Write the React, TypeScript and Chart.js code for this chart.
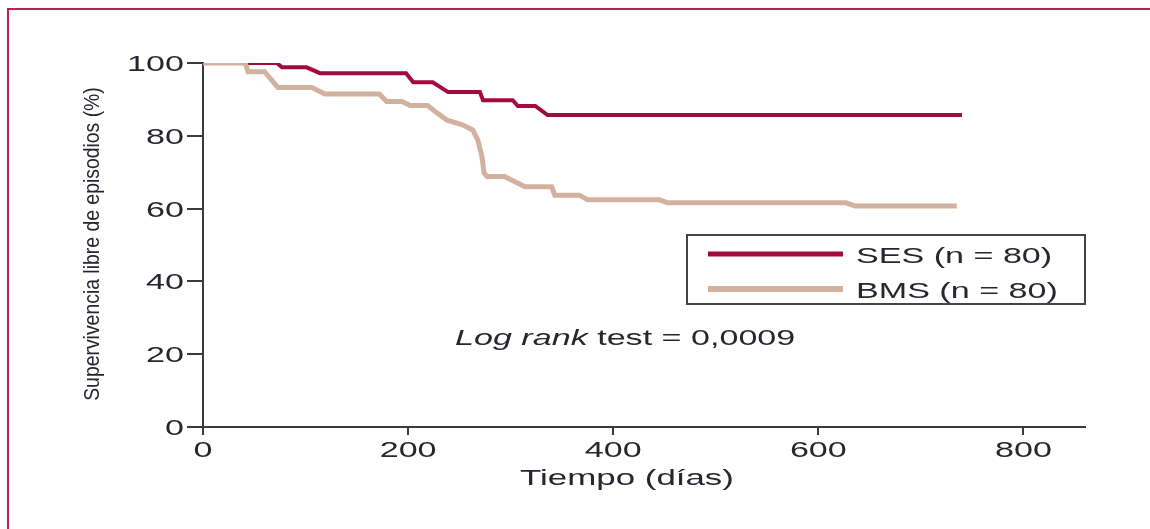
import React, { useEffect, useRef } from "react";
import { Chart, registerables } from "chart.js";

Chart.register(...registerables);

// ---- Data ----
const sesDays = [0, 72, 77, 101, 114, 198, 205, 224, 239, 270, 273, 302, 307, 324, 336, 740];
const sesSurvival = [100, 100, 98.8, 98.8, 97.2, 97.2, 94.7, 94.7, 92.0, 92.0, 89.8, 89.8, 88.2, 88.2, 85.7, 85.7];

const bmsDays = [0, 41, 44, 60, 73, 106, 119, 172, 179, 194, 202, 219, 228, 238, 253, 263, 268, 272, 274, 277, 294, 314, 340, 343, 367, 375, 445, 453, 627, 636, 735];
const bmsSurvival = [100, 100, 97.6, 97.6, 93.3, 93.3, 91.5, 91.5, 89.4, 89.4, 88.3, 88.3, 86.3, 84.3, 83.0, 81.6, 78.8, 74.3, 69.8, 68.8, 68.8, 66.0, 66.0, 63.7, 63.7, 62.4, 62.4, 61.6, 61.6, 60.7, 60.7];

const xTickValues = [0, 200, 400, 600, 800];
const yTickValues = [0, 20, 40, 60, 80, 100];
const seriesLabels = ["SES (n = 80)", "BMS (n = 80)"];
const xAxisTitle = "Tiempo (días)";
const yAxisTitle = "Supervivencia libre de episodios (%)";
const annotationItalic = "Log rank";
const annotationRest = " test = 0,0009";

// ---- Styles ----
const FONT = '"Liberation Sans", Arial, Helvetica, sans-serif';
const SX = 1.55;
const TEXT = "#262630";
const SES_COLOR = "#a50a3c";
const BMS_COLOR = "#d2b29e";
const AXIS = "#3a3a3a";
const FRAME = "#c0204f";

function stretchText(
  ctx: CanvasRenderingContext2D,
  text: string,
  x: number,
  y: number,
  align: "left" | "center" | "right",
  font: string,
  sx: number = SX
): number {
  ctx.save();
  ctx.font = font;
  const w = ctx.measureText(text).width * sx;
  let left = x;
  if (align === "center") left = x - w / 2;
  else if (align === "right") left = x - w;
  ctx.translate(left, y);
  ctx.scale(sx, 1);
  ctx.textAlign = "left";
  ctx.textBaseline = "alphabetic";
  ctx.fillStyle = TEXT;
  ctx.fillText(text, 0, 0);
  ctx.restore();
  return w;
}

const textPlugin = {
  id: "customText",
  afterDraw(chart: any) {
    const ctx: CanvasRenderingContext2D = chart.ctx;
    const xs = chart.scales.x;
    const ys = chart.scales.y;
    const area = chart.chartArea;
    const tickFont = `22px ${FONT}`;

    // y tick labels
    yTickValues.forEach((v) => {
      const py = ys.getPixelForValue(v);
      stretchText(ctx, String(v), area.left - 19, py + 8, "right", tickFont);
    });
    // x tick labels
    xTickValues.forEach((v) => {
      const px = xs.getPixelForValue(v);
      stretchText(ctx, String(v), px, area.bottom + 30, "center", tickFont);
    });
    // x axis title
    stretchText(ctx, xAxisTitle, 627, area.bottom + 58, "center", `22.5px ${FONT}`);

    // y axis title (rotated; glyph height slightly stretched like the reference)
    ctx.save();
    ctx.translate(99, (area.top + area.bottom) / 2 - 1);
    ctx.rotate(-Math.PI / 2);
    ctx.scale(1, 1.12);
    ctx.font = `19.4px ${FONT}`;
    ctx.fillStyle = TEXT;
    ctx.textAlign = "center";
    ctx.textBaseline = "alphabetic";
    ctx.fillText(yAxisTitle, 0, 0);
    ctx.restore();

    // legend box
    ctx.save();
    ctx.strokeStyle = "#444444";
    ctx.lineWidth = 2;
    ctx.strokeRect(687, 235, 398, 69);
    ctx.lineCap = "butt";
    ctx.strokeStyle = SES_COLOR;
    ctx.lineWidth = 5;
    ctx.beginPath();
    ctx.moveTo(708, 254);
    ctx.lineTo(843, 254);
    ctx.stroke();
    ctx.strokeStyle = BMS_COLOR;
    ctx.lineWidth = 6;
    ctx.beginPath();
    ctx.moveTo(708, 289);
    ctx.lineTo(843, 289);
    ctx.stroke();
    ctx.restore();
    stretchText(ctx, seriesLabels[0], 856, 263, "left", `22px ${FONT}`);
    stretchText(ctx, seriesLabels[1], 856, 298, "left", `22px ${FONT}`);

    // annotation
    const w = stretchText(ctx, annotationItalic, 455, 345, "left", `italic 22px ${FONT}`);
    stretchText(ctx, annotationRest, 455 + w, 345, "left", `22px ${FONT}`);
  },
};

export default function App() {
  const canvasRef = useRef<HTMLCanvasElement | null>(null);

  useEffect(() => {
    if (!canvasRef.current) return;
    const chart = new Chart(canvasRef.current, {
      type: "line",
      data: {
        datasets: [
          {
            label: seriesLabels[1],
            data: bmsDays.map((d, i) => ({ x: d, y: bmsSurvival[i] })),
            borderColor: BMS_COLOR,
            borderWidth: 5,
            pointRadius: 0,
            tension: 0,
            fill: false,
          },
          {
            label: seriesLabels[0],
            data: sesDays.map((d, i) => ({ x: d, y: sesSurvival[i] })),
            borderColor: SES_COLOR,
            borderWidth: 4,
            pointRadius: 0,
            tension: 0,
            fill: false,
          },
        ],
      },
      options: {
        animation: false,
        responsive: false,
        devicePixelRatio: 1,
        layout: { padding: { left: 0, right: 65, top: 63, bottom: 0 } },
        plugins: {
          legend: { display: false },
          tooltip: { enabled: false },
          title: { display: false },
        },
        scales: {
          x: {
            type: "linear",
            min: 0,
            max: 860,
            afterBuildTicks: (s: any) => {
              s.ticks = xTickValues.map((v) => ({ value: v }));
            },
            afterFit: (s: any) => {
              s.height = 102;
            },
            ticks: { display: false },
            grid: {
              drawOnChartArea: false,
              drawTicks: true,
              tickLength: 8,
              color: AXIS,
              lineWidth: 2,
            },
            border: { display: true, color: AXIS, width: 2 },
          },
          y: {
            type: "linear",
            min: 0,
            max: 100,
            afterBuildTicks: (s: any) => {
              s.ticks = yTickValues.map((v) => ({ value: v }));
            },
            afterFit: (s: any) => {
              s.width = 203;
            },
            ticks: { display: false },
            grid: {
              drawOnChartArea: false,
              drawTicks: true,
              tickLength: 16,
              color: AXIS,
              lineWidth: 2,
            },
            border: { display: true, color: AXIS, width: 2 },
          },
        },
      },
      plugins: [textPlugin],
    } as any);
    return () => chart.destroy();
  }, []);

  return (
    <div
      style={{
        position: "fixed",
        left: 0,
        top: 0,
        width: 1150,
        height: 529,
        overflow: "hidden",
        background: "#ffffff",
      }}
    >
      <div
        style={{
          position: "absolute",
          left: 7,
          top: 8,
          width: 1300,
          height: 700,
          border: `2px solid ${FRAME}`,
        }}
      />
      <canvas
        ref={canvasRef}
        width={1150}
        height={529}
        style={{ position: "absolute", left: 0, top: 0, display: "block" }}
      />
    </div>
  );
}
